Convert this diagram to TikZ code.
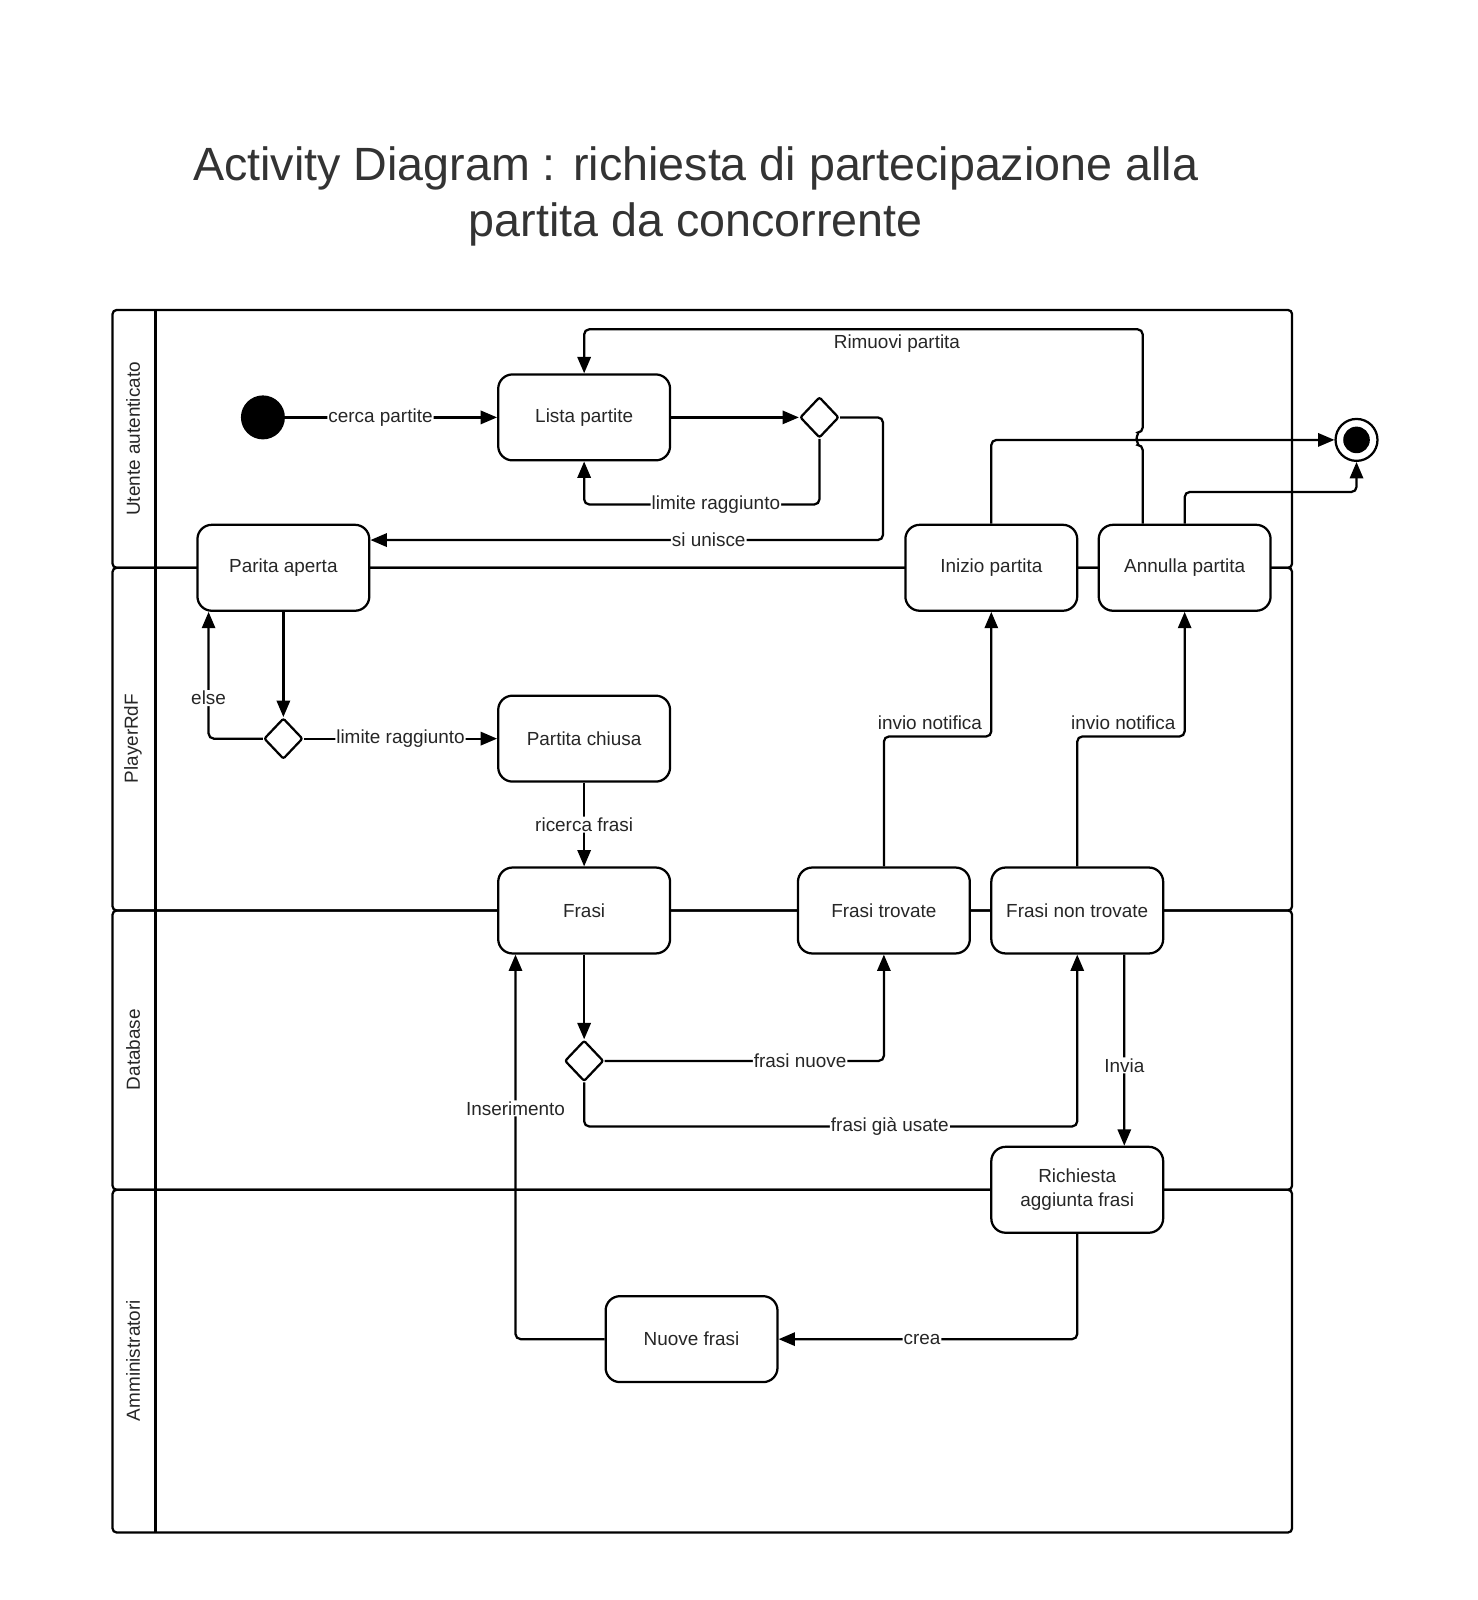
\documentclass[tikz,border=0pt]{standalone}
\usepackage{fontspec}
\setmainfont{Liberation Sans}
\usetikzlibrary{arrows.meta,positioning,shapes.geometric}

\newcommand{\lblfont}{\fontsize{18.5}{23}\selectfont}
\newcommand{\ttlfont}{\fontsize{45.6}{55}\selectfont}

\tikzset{
  activity/.style={draw, line width=2.2pt, rounded corners=14pt, fill=white,
    minimum width=168pt, minimum height=84pt, align=center, font=\lblfont, text=black!85},
  decision/.style={diamond, draw, line width=2.2pt, rounded corners=2pt, fill=white,
    minimum width=38pt, minimum height=40pt, inner sep=0pt},
  startpt/.style={circle, fill=black, minimum size=43pt, inner sep=0pt},
  endpt/.style={circle, draw, line width=2.2pt, fill=white, minimum size=41pt, inner sep=0pt,
    path picture={\fill[black] (path picture bounding box.center) circle (13pt);}},
  lane/.style={line width=2.2pt, rounded corners=4pt},
  lanename/.style={rotate=90, font=\lblfont, text=black!85},
  flow/.style={line width=2.2pt, rounded corners=5pt, -{Triangle[length=16pt,width=13pt]}},
  lbl/.style={fill=white, inner sep=1pt, font=\lblfont, text=black!85},
  sidelbl/.style={inner sep=4pt, font=\lblfont, text=black!85}
}

\begin{document}
\begin{tikzpicture}[x=1pt, y=-1pt]
  \useasboundingbox (0,0) rectangle (1444,1564);

  % titolo
  \node[font=\ttlfont, text=black!80, align=center] (titolo) at (680,192)
    {Activity Diagram : richiesta di partecipazione alla\\partita da concorrente};

  % corsie
  \draw[lane] (110,303) rectangle (1263,555);
  \draw[lane] (110,555) rectangle (1263,890);
  \draw[lane] (110,890) rectangle (1263,1163);
  \draw[lane] (110,1163) rectangle (1263,1498);
  \draw[line width=2.2pt] (152,303) -- (152,1498);
  \node[lanename] (utente) at (130,429) {Utente autenticato};
  \node[lanename] (player) at (130,722) {PlayerRdF};
  \node[lanename] (database) at (130,1026) {Database};
  \node[lanename] (admin) at (130,1330) {Amministratori};

  % nodi
  \node[startpt] (start) at (257,408) {};
  \node[activity] (lista) at (571,408) {Lista partite};
  \node[decision] (d1) at (801,408) {};
  \node[activity] (aperta) at (277,555) {Parita aperta};
  \node[activity] (inizio) at (969,555) {Inizio partita};
  \node[activity, right=18.8pt of inizio] (annulla) {Annulla partita};
  \node[endpt] (fine) at (1326,430) {};
  \node[decision] (d2) at (277,722) {};
  \node[activity] (chiusa) at (571,722) {Partita chiusa};
  \node[activity, below=81.8pt of chiusa] (frasi) {Frasi};
  \node[activity] (trovate) at (864,890) {Frasi trovate};
  \node[activity, right=18.8pt of trovate] (nontrovate) {Frasi non trovate};
  \node[decision] (d3) at (571,1037) {};
  \node[activity] (richiesta) at (1053,1163) {Richiesta\\aggiunta frasi};
  \node[activity] (nuove) at (676,1309) {Nuove frasi};

  % archi
  \draw[flow] (start) -- node[lbl, pos=0.45] {cerca partite} (lista);
  \draw[flow] (lista) -- (d1);
  \draw[flow] (d1.south) -- ++(0,64) -| node[lbl, pos=0.22] {limite raggiunto} (lista.south);
  \draw[flow] (d1.east) -- ++(42,0) |- node[lbl, pos=0.67] {si unisce} ([yshift=-16pt]aperta.north east);
  \draw[flow] ([xshift=-41pt]annulla.north) -- ++(0,-77) arc[start angle=270, end angle=90, radius=6pt]
    |- node[sidelbl, below, pos=0.72] {Rimuovi partita} ([yshift=43pt]lista.north) -- (lista.north);
  \draw[flow] (inizio.north) |- (fine.west);
  \draw[flow] (annulla.north) -- ++(0,-31) -| (fine.south);
  \draw[flow] (aperta.south) -- (d2.north);
  \draw[flow] (d2.west) -| node[lbl, pos=0.66] {else} ([xshift=12pt]aperta.south west);
  \draw[flow] (d2.east) -- node[lbl] {limite raggiunto} (chiusa.west);
  \draw[flow] (chiusa) -- node[lbl] {ricerca frasi} (frasi);
  \draw[flow] (trovate.north) -- ++(0,-127) -| node[sidelbl, anchor=south east, pos=0.5, xshift=-4pt, yshift=2pt] {invio notifica} (inizio.south);
  \draw[flow] (nontrovate.north) -- ++(0,-127) -| node[sidelbl, anchor=south east, pos=0.5, xshift=-4pt, yshift=2pt] {invio notifica} (annulla.south);
  \draw[flow] (frasi.south) -- (d3.north);
  \draw[flow] (d3.east) -| node[lbl, pos=0.35] {frasi nuove} (trovate.south);
  \draw[flow] (d3.south) -- ++(0,43) -| node[lbl, pos=0.31] {frasi già usate} (nontrovate.south);
  \draw[flow] ([xshift=46pt]nontrovate.south) -- node[lbl, pos=0.58] {Invia} ([xshift=46pt]richiesta.north);
  \draw[flow] (richiesta.south) |- node[lbl, pos=0.76] {crea} (nuove.east);
  \draw[flow] (nuove.west) -| node[lbl, pos=0.8] {Inserimento} ([xshift=18pt]frasi.south west);
\end{tikzpicture}
\end{document}
